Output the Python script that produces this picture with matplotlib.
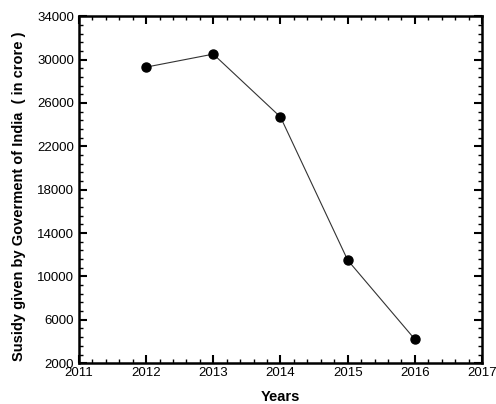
import matplotlib
matplotlib.use('Agg')
import matplotlib.pyplot as plt

plt.rcParams['font.family'] = ['Liberation Sans', 'DejaVu Sans']

years = [2012, 2013, 2014, 2015, 2016]
subsidy = [29300, 30500, 24700, 11500, 4200]
xticks = [2011, 2012, 2013, 2014, 2015, 2016, 2017]
yticks = list(range(2000, 34001, 4000))

fig = plt.figure(figsize=(4.96, 4.04), dpi=100)
ax = fig.add_axes([0.159, 0.101, 0.813, 0.859])
ax.plot(years, subsidy, color='#333333', lw=0.8, marker='o', ms=6.5,
        mfc='black', mec='black')

ax.set_xlim(2011, 2017)
ax.set_ylim(2000, 34000)
ax.set_xticks(xticks)
ax.set_yticks(yticks)
ax.set_xticks([2011 + i * 0.2 for i in range(31)], minor=True)
ax.set_yticks([2000 + i * 800 for i in range(41)], minor=True)
ax.tick_params(which='both', direction='in', top=True, right=True, labelsize=9.5)
ax.tick_params(which='major', length=6, width=1.5)
ax.tick_params(which='minor', length=3, width=1)
ax.tick_params(axis='x', pad=3)
for s in ax.spines.values():
    s.set_linewidth(1.8)

ax.set_xlabel('Years', fontsize=10.5, fontweight='bold', labelpad=8)
ax.set_ylabel('Susidy given by Goverment of India  ( in crore )', fontsize=10.5,
              fontweight='bold')
ax.yaxis.set_label_coords(-0.13, 0.48)

fig.savefig('out.png', dpi=100)
